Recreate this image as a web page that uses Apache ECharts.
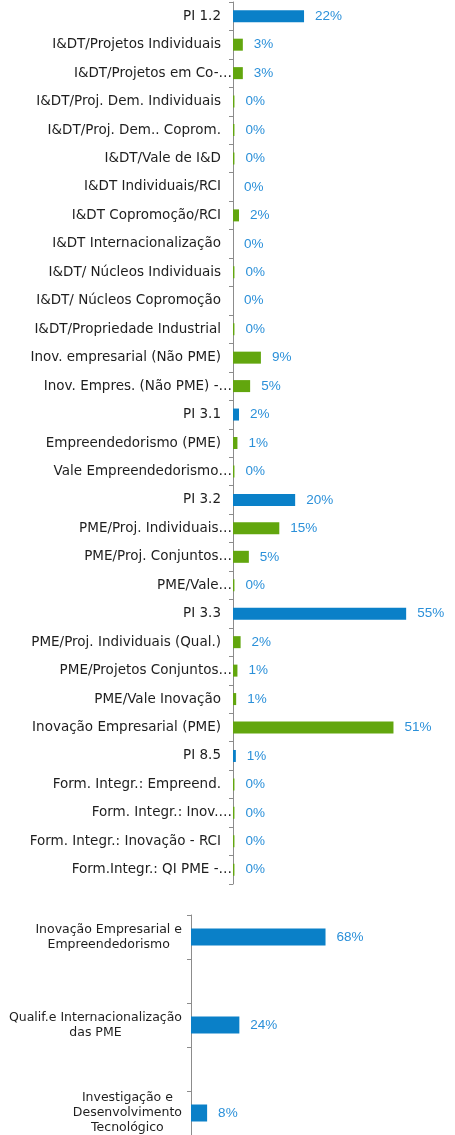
<!DOCTYPE html>
<html>
<head>
<meta charset="utf-8">
<script src="https://cdn.jsdelivr.net/npm/echarts@6/dist/echarts.min.js"></script>
<style>html,body{margin:0;padding:0;background:#fff;}#c{width:455px;height:1135px;}</style>
</head>
<body>
<div id="c"></div>
<script>
var categories1 = ['PI 1.2','I&DT/Projetos Individuais','I&DT/Projetos em Co-…','I&DT/Proj. Dem. Individuais','I&DT/Proj. Dem.. Coprom.','I&DT/Vale de I&D','I&DT Individuais/RCI','I&DT Copromoção/RCI','I&DT Internacionalização','I&DT/ Núcleos Individuais','I&DT/ Núcleos Copromoção','I&DT/Propriedade Industrial','Inov. empresarial (Não PME)','Inov. Empres. (Não PME) -…','PI 3.1','Empreendedorismo (PME)','Vale Empreendedorismo…','PI 3.2','PME/Proj. Individuais…','PME/Proj. Conjuntos…','PME/Vale…','PI 3.3','PME/Proj. Individuais (Qual.)','PME/Projetos Conjuntos…','PME/Vale Inovação','Inovação Empresarial (PME)','PI 8.5','Form. Integr.: Empreend.','Form. Integr.: Inov.…','Form. Integr.: Inovação - RCI','Form.Integr.: QI PME -…'];
var values1 = [22.4,3.1,3.1,0.45,0.45,0.45,0,1.9,0,0.45,0,0.45,8.8,5.4,1.9,1.4,0.45,19.6,14.6,5.0,0.45,54.6,2.4,1.4,1.0,50.6,0.9,0.45,0.45,0.45,0.45];
var categories2 = ['Inovação Empresarial e\nEmpreendedorismo','','Qualif.e Internacionalização\ndas PME','','Investigação e\nDesenvolvimento\nTecnológico'];
var values2 = [67.6,null,24.3,null,8.1];

var BLUE = '#0a80c8', GREEN = '#62a60e', LBL = '#2b90d9';
var chart = echarts.init(document.getElementById('c'), null, {renderer:'canvas'});
function catFmt(v){
  if (/…$/.test(v)) return '{t|' + v + '}';
  return '{n|' + v + '}';
}
function catFmt2(v){
  if (!v) return '';
  return v.split('\n').map(function(l){return '{c|' + l + '}';}).join('\n');
}
var valLabel = {
  show:true, position:'right', distance:11, color:LBL,
  fontFamily:'Liberation Sans Narrow, Liberation Sans, sans-serif', fontSize:13.5,
  formatter:function(p){ return p.value == null ? '' : Math.round(p.value) + '%'; }
};
chart.setOption({
  animation:false,
  grid:[
    {left:233, top:2, width:222, height:882},
    {left:191, top:915, width:199, height:221}
  ],
  xAxis:[
    {gridIndex:0, type:'value', min:0, max:70, show:false},
    {gridIndex:1, type:'value', min:0, max:100, show:false}
  ],
  yAxis:[
    {gridIndex:0, type:'category', inverse:true, data:categories1,
     axisLine:{show:true, lineStyle:{color:'#8c8c8c', width:1}},
     axisTick:{show:true, length:4, lineStyle:{color:'#8c8c8c'}},
     splitLine:{show:false},
     axisLabel:{interval:0, margin:1, formatter:catFmt,
       rich:{
         n:{fontFamily:'DejaVu Sans', fontSize:13.5, color:'#1e1e1e', padding:[0,11,0,0]},
         t:{fontFamily:'DejaVu Sans', fontSize:13.5, color:'#1e1e1e'}
       }}},
    {gridIndex:1, type:'category', inverse:true, data:categories2,
     axisLine:{show:true, lineStyle:{color:'#8c8c8c', width:1}},
     axisTick:{show:true, length:4, lineStyle:{color:'#8c8c8c'}},
     splitLine:{show:false},
     axisLabel:{interval:0, margin:9, align:'right', formatter:catFmt2,
       rich:{ c:{fontFamily:'DejaVu Sans', fontSize:12.5, color:'#1e1e1e', align:'center', lineHeight:15} }}}
  ],
  series:[
    {type:'bar', xAxisIndex:0, yAxisIndex:0, data:values1, barWidth:12,
     itemStyle:{color:function(p){ return /^PI /.test(categories1[p.dataIndex]) ? BLUE : GREEN; }},
     label:valLabel},
    {type:'bar', xAxisIndex:1, yAxisIndex:1, data:values2, barWidth:17,
     itemStyle:{color:BLUE}, label:valLabel}
  ]
});
</script>
</body>
</html>
